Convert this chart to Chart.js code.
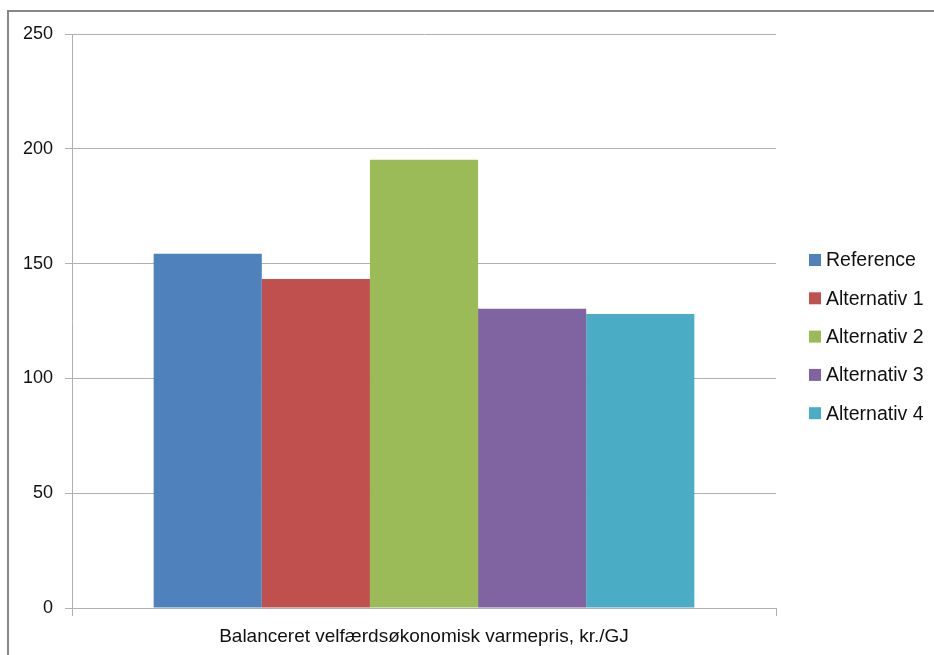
<!DOCTYPE html>
<html>
<head>
<meta charset="utf-8">
<script src="https://cdn.jsdelivr.net/npm/chart.js@4/dist/chart.umd.min.js"></script>
<style>
  html, body { margin: 0; padding: 0; background: #fff; overflow: hidden; }
  #frame { position: absolute; left: 7px; top: 10px; width: 1000px; height: 700px;
           border: 2px solid #878787; box-sizing: border-box; }
  #wrap { position: absolute; left: 0; top: 0; width: 934px; height: 655px; }
</style>
</head>
<body>
<div id="frame"></div>
<div id="wrap"><canvas id="c" width="934" height="655"></canvas></div>
<script>
// Category on the x axis
const categories = ['Balanceret velfærdsøkonomisk varmepris, kr./GJ'];
// Scenario names (one bar each)
const seriesNames = ['Reference', 'Alternativ 1', 'Alternativ 2', 'Alternativ 3', 'Alternativ 4'];
// Heat price per scenario, kr./GJ
const seriesValues = [154.3, 143.3, 195.2, 130.3, 128.0];
// Y axis tick range
const yTicks = [0, 50, 100, 150, 200, 250];

const colors = ['#4F81BD', '#C0504D', '#9BBB59', '#8064A2', '#4BACC6'];
const FONT = "'Liberation Sans', Arial, sans-serif";
const GRID = '#b0b0b0';

// Legend drawn to the right of the plot, one row per dataset
const sideLegend = {
  id: 'sideLegend',
  afterDraw(chart, args, opts) {
    const ctx = chart.ctx;
    ctx.save();
    ctx.font = `${opts.fontSize}px ${FONT}`;
    ctx.textBaseline = 'middle';
    ctx.textAlign = 'left';
    chart.data.datasets.forEach((ds, i) => {
      const y = opts.top + i * opts.step;
      ctx.fillStyle = ds.backgroundColor;
      ctx.fillRect(opts.x, y - opts.box / 2, opts.box, opts.box);
      ctx.fillStyle = '#111';
      ctx.fillText(ds.label, opts.x + opts.box + 5, y + 1);
    });
    ctx.restore();
  }
};

const datasets = seriesNames.map((name, i) => ({
  label: name,
  data: [seriesValues[i]],
  backgroundColor: colors[i],
  borderWidth: 0,
  categoryPercentage: 0.768,
  barPercentage: 1.0
}));

new Chart(document.getElementById('c'), {
  type: 'bar',
  data: { labels: categories, datasets },
  plugins: [sideLegend],
  options: {
    responsive: false,
    animation: false,
    layout: { padding: { top: 34, right: 158, left: 0, bottom: 0 } },
    plugins: {
      legend: { display: false },
      tooltip: { enabled: false },
      sideLegend: { x: 809, top: 260, step: 38.3, box: 12, fontSize: 19.5 }
    },
    scales: {
      x: {
        grid: { display: true, drawOnChartArea: false, color: GRID, tickLength: 8 },
        border: { color: GRID, width: 1 },
        ticks: { color: '#111', font: { family: FONT, size: 19 }, padding: 9 },
        afterFit(scale) { scale.height = 47; }
      },
      y: {
        min: 0,
        max: yTicks[yTicks.length - 1],
        afterBuildTicks(scale) { scale.ticks = yTicks.map(v => ({ value: v })); },
        grid: { color: GRID, tickLength: 7 },
        border: { color: GRID, width: 1 },
        ticks: { color: '#111', font: { family: FONT, size: 18 }, padding: 12 },
        afterFit(scale) { scale.width = 72; }
      }
    }
  }
});
</script>
</body>
</html>
